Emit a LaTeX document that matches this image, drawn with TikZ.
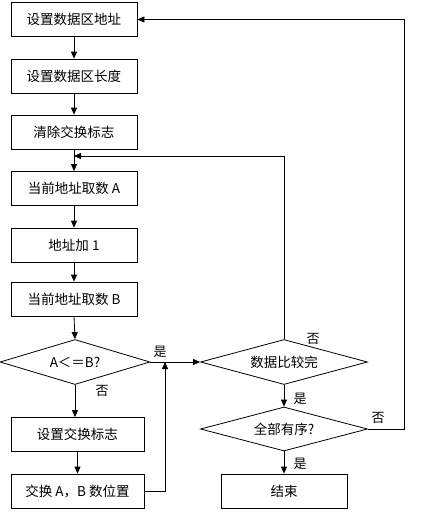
\documentclass[tikz,border=0pt]{standalone}
\usepackage{fontspec}
\setmainfont{Noto Sans CJK SC}
\usepackage{tikz}
\usetikzlibrary{arrows.meta,shapes.geometric}

\begin{document}
\begin{tikzpicture}[x=1pt,y=-1pt,line width=0.8pt,>={Triangle[length=7pt,width=6pt]}]
\tikzstyle{every node}+=[inner sep=0pt,font=\fontsize{13.5}{16}\selectfont]
\tikzstyle{stepbox}=[draw,rectangle,minimum width=126pt,minimum height=34pt]
\tikzstyle{widebox}=[draw,rectangle,minimum width=133pt,minimum height=34pt]
\tikzstyle{test}=[draw,diamond,aspect=3.7,minimum width=167pt,minimum height=45pt]
\tikzstyle{lbl}=[font=\fontsize{13}{15}\selectfont]
\useasboundingbox (0,0) rectangle (421,515);
\node [stepbox] (b1) at (74,19.5) {设置数据区地址};
\node [stepbox] (b2) at (74,76) {设置数据区长度};
\node [stepbox] (b3) at (74,132) {清除交换标志};
\node [stepbox] (b4) at (74,188.5) {当前地址取数 A};
\node [stepbox] (b5) at (74,245) {地址加 1};
\node [stepbox] (b6) at (74,299) {当前地址取数 B};
\node [test,aspect=3.33,minimum width=150pt] (d1) at (75,362) {A＜＝B?};
\node [widebox] (b7) at (77.5,434.5) {设置交换标志};
\node [widebox] (b8) at (77.5,491) {交换 A，B 数位置};
\node [test] (d2) at (284,362) {数据比较完};
\node [test,minimum height=44pt] (d3) at (284,429) {全部有序?};
\node [stepbox] (b9) at (284,491) {结束};
\coordinate (m1) at (74,156);
\coordinate (m2) at (165,362);
\draw [->] (b1) -- (b2);
\draw [->] (b2) -- (b3);
\draw [->] (b3) -- (b4);
\draw [->] (b4) -- (b5);
\draw [->] (b5) -- (b6);
\draw [->] (b6.south) -- (d1.north);
\draw [->] (d1.south) -- (d1.south |- b7.north);
\draw [->] (b7) -- (b8);
\draw [->] (d1.east) -- (d2.west);
\draw [->] (b8.east) -| (m2);
\draw [->] (d2.north) |- (m1);
\draw [->] (d2.south) -- (d3.north);
\draw [->] (d3.south) -- (b9.north);
\draw [->] (d3.east) -- ++(36,0) |- (b1.east);
\node [lbl] (y1) at (160,352) {是};
\node [lbl] (n1) at (102,391) {否};
\node [lbl] (n2) at (313,339) {否};
\node [lbl] (y2) at (300,399) {是};
\node [lbl] (n3) at (378,418) {否};
\node [lbl] (y3) at (300,464) {是};
\end{tikzpicture}
\end{document}
